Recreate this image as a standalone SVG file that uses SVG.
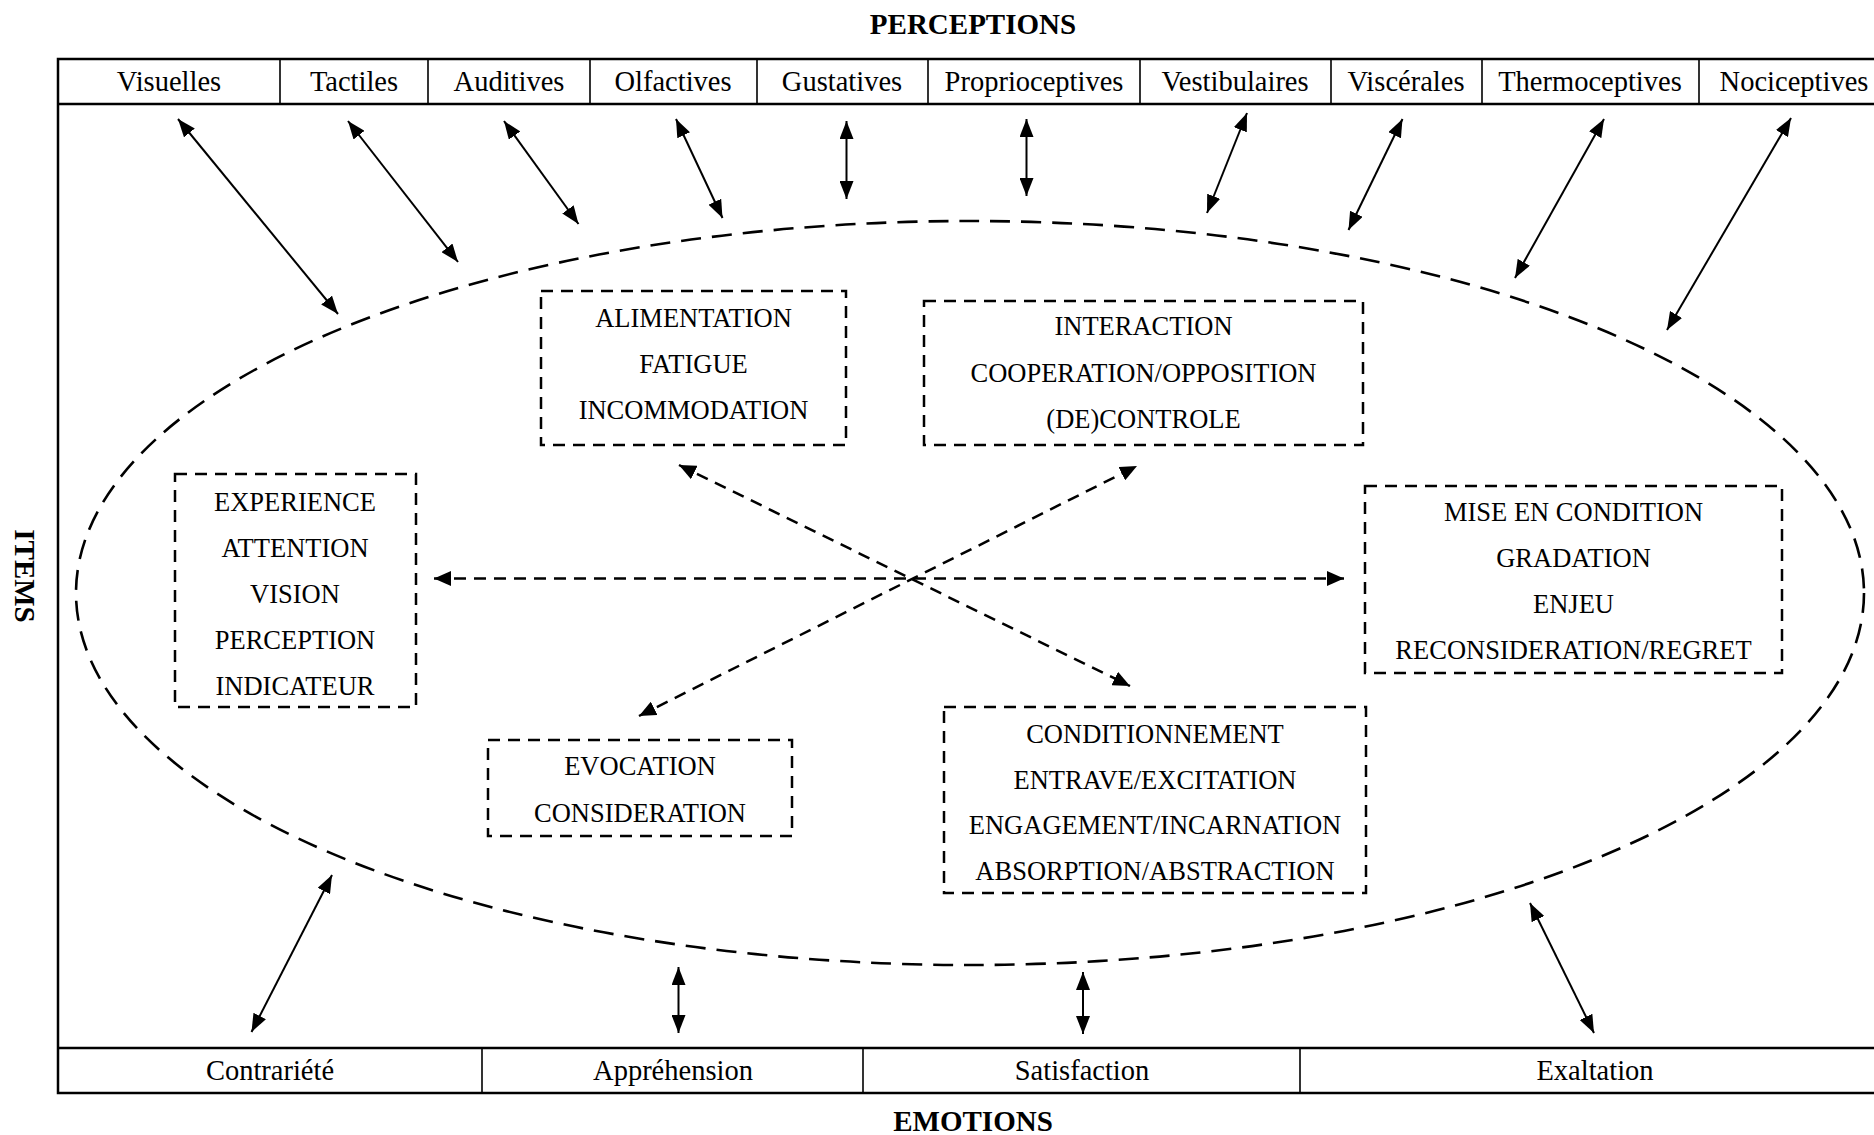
<svg xmlns="http://www.w3.org/2000/svg" width="1874" height="1135" viewBox="0 0 1874 1135">
<style>
.t{font-family:"Liberation Serif","Times New Roman",serif;font-size:28.5px;fill:#000;text-anchor:middle}
.b{font-family:"Liberation Serif","Times New Roman",serif;font-size:29px;font-weight:bold;fill:#000;text-anchor:middle}
.i{font-family:"Liberation Serif","Times New Roman",serif;font-size:26.5px;fill:#000;text-anchor:middle}
.frame{fill:none;stroke:#000;stroke-width:2.5}
.div{fill:none;stroke:#000;stroke-width:1.6}
.box{fill:none;stroke:#000;stroke-width:2.5;stroke-dasharray:12 8}
.ell{fill:none;stroke:#000;stroke-width:2.6;stroke-dasharray:20 11}
.sa{fill:none;stroke:#000;stroke-width:2;marker-start:url(#ah);marker-end:url(#ah)}
.da{fill:none;stroke:#000;stroke-width:2.5;stroke-dasharray:12 8;marker-start:url(#dh);marker-end:url(#dh)}
</style>
<defs>
<marker id="ah" markerUnits="userSpaceOnUse" markerWidth="18" markerHeight="14" refX="18" refY="7" orient="auto-start-reverse" viewBox="0 0 18 14">
<path d="M0,0 L18,7 L0,14 z" fill="#000"/>
</marker>
<marker id="dh" markerUnits="userSpaceOnUse" markerWidth="17" markerHeight="15" refX="17" refY="7.5" orient="auto-start-reverse" viewBox="0 0 17 15">
<path d="M0,0 L17,7.5 L0,15 z" fill="#000"/>
</marker>
</defs>
<rect width="1874" height="1135" fill="#fff"/>

<text class="b" x="973" y="34">PERCEPTIONS</text>
<text class="b" x="973" y="1131">EMOTIONS</text>
<text class="b" transform="translate(15,576) rotate(90)" x="0" y="0">ITEMS</text>

<g id="frame">
<rect class="frame" x="58" y="59" width="1832" height="1034"/>
<line class="frame" x1="58" y1="104" x2="1890" y2="104"/>
<line class="frame" x1="58" y1="1048" x2="1890" y2="1048"/>
</g>

<g id="perceptions">
<g id="p-visuelles"><text class="t" x="169" y="91">Visuelles</text></g>
<line class="div" x1="280" y1="59" x2="280" y2="104"/>
<g id="p-tactiles"><text class="t" x="354" y="91">Tactiles</text></g>
<line class="div" x1="428" y1="59" x2="428" y2="104"/>
<g id="p-auditives"><text class="t" x="509" y="91">Auditives</text></g>
<line class="div" x1="590" y1="59" x2="590" y2="104"/>
<g id="p-olfactives"><text class="t" x="673" y="91">Olfactives</text></g>
<line class="div" x1="757" y1="59" x2="757" y2="104"/>
<g id="p-gustatives"><text class="t" x="842" y="91">Gustatives</text></g>
<line class="div" x1="928" y1="59" x2="928" y2="104"/>
<g id="p-proprioceptives"><text class="t" x="1034" y="91">Proprioceptives</text></g>
<line class="div" x1="1140" y1="59" x2="1140" y2="104"/>
<g id="p-vestibulaires"><text class="t" x="1235" y="91">Vestibulaires</text></g>
<line class="div" x1="1331" y1="59" x2="1331" y2="104"/>
<g id="p-viscerales"><text class="t" x="1406" y="91">Viscérales</text></g>
<line class="div" x1="1482" y1="59" x2="1482" y2="104"/>
<g id="p-thermoceptives"><text class="t" x="1590" y="91">Thermoceptives</text></g>
<line class="div" x1="1699" y1="59" x2="1699" y2="104"/>
<g id="p-nociceptives"><text class="t" x="1794" y="91">Nociceptives</text></g>
</g>

<g id="emotions">
<g id="e-contrariete"><text class="t" x="270" y="1080">Contrariété</text></g>
<line class="div" x1="482" y1="1048" x2="482" y2="1093"/>
<g id="e-apprehension"><text class="t" x="673" y="1080">Appréhension</text></g>
<line class="div" x1="863" y1="1048" x2="863" y2="1093"/>
<g id="e-satisfaction"><text class="t" x="1082" y="1080">Satisfaction</text></g>
<line class="div" x1="1300" y1="1048" x2="1300" y2="1093"/>
<g id="e-exaltation"><text class="t" x="1595" y="1080">Exaltation</text></g>
</g>

<g id="items-ellipse">
<ellipse class="ell" cx="970" cy="593" rx="894" ry="372"/>
</g>

<g id="box-alimentation">
<rect class="box" x="541" y="291" width="305" height="154"/>
<text class="i" x="693.5" y="327">ALIMENTATION</text>
<text class="i" x="693.5" y="373">FATIGUE</text>
<text class="i" x="693.5" y="419">INCOMMODATION</text>
</g>
<g id="box-interaction">
<rect class="box" x="924" y="301" width="439" height="144"/>
<text class="i" x="1143.5" y="335">INTERACTION</text>
<text class="i" x="1143.5" y="382">COOPERATION/OPPOSITION</text>
<text class="i" x="1143.5" y="428">(DE)CONTROLE</text>
</g>
<g id="box-experience">
<rect class="box" x="175" y="474" width="241" height="233"/>
<text class="i" x="295" y="511">EXPERIENCE</text>
<text class="i" x="295" y="557">ATTENTION</text>
<text class="i" x="295" y="603">VISION</text>
<text class="i" x="295" y="649">PERCEPTION</text>
<text class="i" x="295" y="695">INDICATEUR</text>
</g>
<g id="box-mise">
<rect class="box" x="1365" y="486" width="417" height="187"/>
<text class="i" x="1573.5" y="521">MISE EN CONDITION</text>
<text class="i" x="1573.5" y="567">GRADATION</text>
<text class="i" x="1573.5" y="613">ENJEU</text>
<text class="i" x="1573.5" y="659">RECONSIDERATION/REGRET</text>
</g>
<g id="box-evocation">
<rect class="box" x="488" y="740" width="304" height="96"/>
<text class="i" x="640" y="775">EVOCATION</text>
<text class="i" x="640" y="822">CONSIDERATION</text>
</g>
<g id="box-conditionnement">
<rect class="box" x="944" y="707" width="422" height="186"/>
<text class="i" x="1155" y="743">CONDITIONNEMENT</text>
<text class="i" x="1155" y="789">ENTRAVE/EXCITATION</text>
<text class="i" x="1155" y="834">ENGAGEMENT/INCARNATION</text>
<text class="i" x="1155" y="880">ABSORPTION/ABSTRACTION</text>
</g>

<g id="connectors">
<line class="sa" x1="178" y1="119" x2="338" y2="314"/>
<line class="sa" x1="348" y1="121" x2="458" y2="262"/>
<line class="sa" x1="504" y1="121" x2="578.5" y2="224"/>
<line class="sa" x1="676" y1="119" x2="722.5" y2="218"/>
<line class="sa" x1="846.5" y1="121" x2="846.5" y2="199"/>
<line class="sa" x1="1026.5" y1="119" x2="1026.5" y2="196"/>
<line class="sa" x1="1247" y1="113" x2="1207" y2="213"/>
<line class="sa" x1="1402.5" y1="119" x2="1348.5" y2="230"/>
<line class="sa" x1="1604" y1="119" x2="1515" y2="278"/>
<line class="sa" x1="1791" y1="118" x2="1667" y2="330"/>
<line class="sa" x1="332" y1="875" x2="251.5" y2="1032"/>
<line class="sa" x1="678.5" y1="967" x2="678.5" y2="1033"/>
<line class="sa" x1="1083" y1="972" x2="1083" y2="1034"/>
<line class="sa" x1="1530" y1="903" x2="1594" y2="1033"/>
<line class="da" x1="434" y1="578.5" x2="1344" y2="578.5"/>
<line class="da" x1="679" y1="465" x2="1130" y2="686"/>
<line class="da" x1="639" y1="716" x2="1137" y2="466"/>
</g>
</svg>
